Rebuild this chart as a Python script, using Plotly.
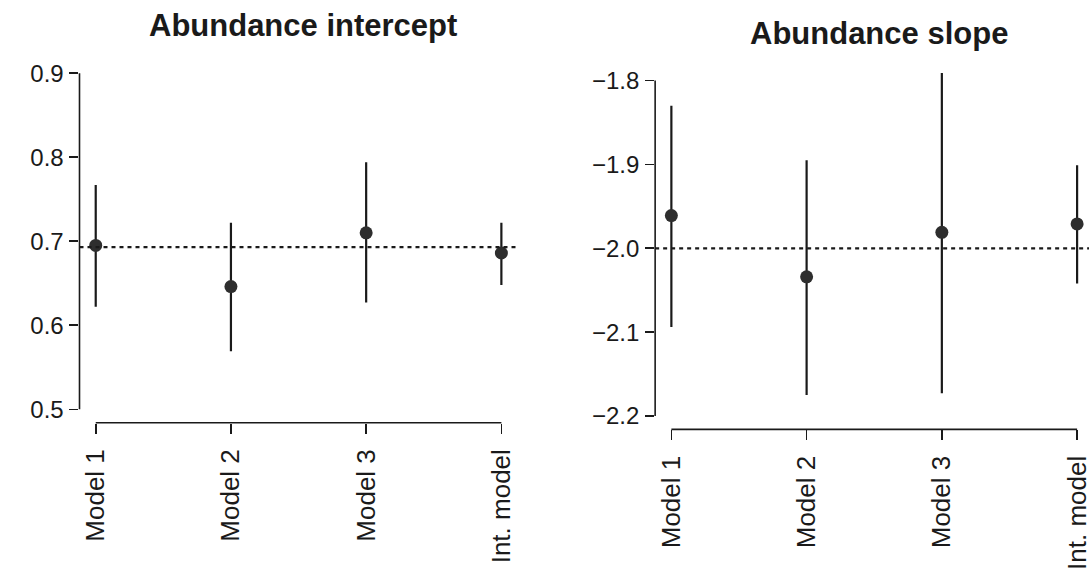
import plotly.graph_objects as go

# ---------------- data ----------------
models = ["Model 1", "Model 2", "Model 3", "Int. model"]
x_pos = [1, 2, 3, 4]

int_est = [0.695, 0.646, 0.710, 0.686]
int_upper = [0.767, 0.722, 0.794, 0.722]
int_lower = [0.622, 0.569, 0.627, 0.648]
int_true = 0.693

slope_est = [-1.961, -2.034, -1.981, -1.971]
slope_upper = [-1.830, -1.895, -1.791, -1.901]
slope_lower = [-2.094, -2.175, -2.173, -2.042]
slope_true = -2.0

int_yticks = [0.5, 0.6, 0.7, 0.8, 0.9]
int_yticktext = ["0.5", "0.6", "0.7", "0.8", "0.9"]
slope_yticks = [-2.2, -2.1, -2.0, -1.9, -1.8]
slope_yticktext = ["\u22122.2", "\u22122.1", "\u22122.0", "\u22121.9", "\u22121.8"]

titles = ["Abundance intercept", "Abundance slope"]

# ---------------- style ----------------
INK = "#1a1a1a"
DOT = "#2e2e2e"
FONT = "Arial, Liberation Sans, sans-serif"


def pad(lo, hi, f=0.04):
    d = (hi - lo) * f
    return [lo - d, hi + d]


fig = go.Figure()

panels = [
    dict(est=int_est, up=int_upper, lo=int_lower, ref=int_true,
         yt=int_yticks, ytt=int_yticktext, xa="x", ya="y"),
    dict(est=slope_est, up=slope_upper, lo=slope_lower, ref=slope_true,
         yt=slope_yticks, ytt=slope_yticktext, xa="x2", ya="y2"),
]

for p in panels:
    fig.add_trace(go.Scatter(
        x=x_pos, y=p["est"], mode="markers",
        xaxis=p["xa"], yaxis=p["ya"],
        marker=dict(size=13, color=DOT),
        error_y=dict(type="data", symmetric=False,
                     array=[u - e for u, e in zip(p["up"], p["est"])],
                     arrayminus=[e - l for e, l in zip(p["est"], p["lo"])],
                     width=0, thickness=2.2, color=INK),
        cliponaxis=False, showlegend=False, hoverinfo="skip"))
    xr = p["xa"]
    yr = p["ya"]
    # reference (true) value
    fig.add_shape(type="line", xref=f"{xr} domain", x0=0, x1=1,
                  yref=yr, y0=p["ref"], y1=p["ref"],
                  line=dict(color=INK, width=2.2, dash="4px,4px"))
    # R-style axis lines spanning first..last tick
    fig.add_shape(type="line", xref=f"{xr} domain", x0=0, x1=0,
                  yref=yr, y0=min(p["yt"]), y1=max(p["yt"]),
                  line=dict(color=INK, width=1.6))
    fig.add_shape(type="line", xref=xr, x0=min(x_pos), x1=max(x_pos),
                  yref=f"{yr} domain", y0=0, y1=0,
                  line=dict(color=INK, width=1.6))

xcommon = dict(tickmode="array", tickvals=x_pos, ticktext=models,
               tickangle=-90, ticks="outside", ticklen=10, tickwidth=1.6,
               tickcolor=INK, showline=False, showgrid=False, zeroline=False,
               tickfont=dict(family=FONT, size=26, color=INK),
               ticklabelstandoff=5, ticklabeloverflow="allow")
ycommon = dict(tickmode="array", ticks="outside", ticklen=9, tickwidth=1.6,
               tickcolor=INK, showline=False, showgrid=False, zeroline=False,
               tickfont=dict(family=FONT, size=24, color=INK),
               ticklabelstandoff=1)

fig.update_layout(
    width=1092, height=570,
    margin=dict(l=0, r=0, t=0, b=0),
    paper_bgcolor="white", plot_bgcolor="white",
    xaxis=dict(domain=[0.0730, 0.4753], range=[0.88, 4.12],
               anchor="y", **xcommon),
    yaxis=dict(domain=[0.2570, 0.8951], range=pad(min(int_yticks), max(int_yticks)),
               tickvals=int_yticks, ticktext=int_yticktext, anchor="x", **ycommon),
    xaxis2=dict(domain=[0.6016, 1.0], range=[0.88, 4.088],
                anchor="y2", **xcommon),
    yaxis2=dict(domain=[0.2454, 0.8819], range=pad(min(slope_yticks), max(slope_yticks)),
                tickvals=slope_yticks, ticktext=slope_yticktext, anchor="x2", **ycommon),
)

fig.add_annotation(text="<b>" + titles[0] + "</b>", xref="paper", yref="paper",
                   x=304 / 1092, y=(570 - 26) / 570, xanchor="center", yanchor="middle",
                   showarrow=False, font=dict(family=FONT, size=31, color=INK))
fig.add_annotation(text="<b>" + titles[1] + "</b>", xref="paper", yref="paper",
                   x=881 / 1092, y=(570 - 34) / 570, xanchor="center", yanchor="middle",
                   showarrow=False, font=dict(family=FONT, size=31, color=INK))

fig.write_html("out.html",
               config={"displayModeBar": False, "staticPlot": True},
               post_script="document.body.style.margin='0';document.body.style.overflow='hidden';")
